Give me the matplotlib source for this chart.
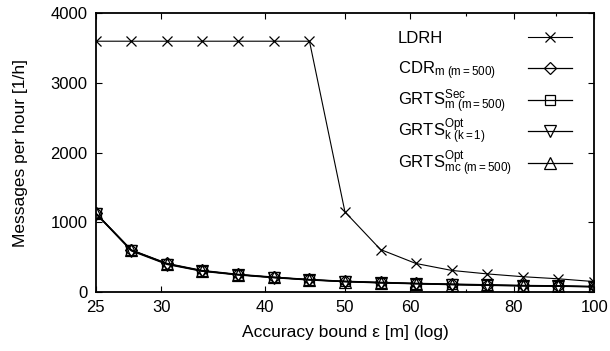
import types
import numpy as np
import matplotlib
matplotlib.use("Agg")
import matplotlib.pyplot as plt
from matplotlib.ticker import FixedLocator, NullFormatter, FixedFormatter
from matplotlib.transforms import Bbox

plt.rcParams["font.family"] = ["Liberation Sans", "DejaVu Sans"]
plt.rcParams["mathtext.fontset"] = "custom"
plt.rcParams["mathtext.rm"] = "Liberation Sans"
plt.rcParams["mathtext.it"] = "Liberation Sans"

# accuracy bound epsilon [m]
eps = [25, 27.6, 30.5, 33.6, 37.1, 41.0, 45.3, 50, 55.2, 60.9, 67.3, 74.3, 82.0, 90.5, 100]

ldrh      = [3600, 3600, 3600, 3600, 3600, 3600, 3600, 1150, 610, 410, 310, 260, 220, 190, 150]
cdr       = [1135, 605, 410, 310, 255, 215, 180, 155, 140, 125, 115, 105, 95, 90, 80]
grts_sec  = [1130, 600, 405, 305, 250, 210, 178, 152, 135, 122, 110, 100, 92, 86, 78]
grts_k    = [1125, 590, 395, 298, 245, 205, 172, 148, 130, 118, 105, 95, 88, 82, 75]
grts_mc   = [1130, 600, 402, 303, 250, 210, 176, 150, 134, 120, 108, 98, 90, 84, 76]

xticks = [25, 30, 40, 50, 60, 80, 100]
yticks = [0, 1000, 2000, 3000, 4000]

FS = 12.5

fig, ax = plt.subplots(figsize=(6.10, 3.51), dpi=100)
fig.subplots_adjust(left=0.157, right=0.974, top=0.962, bottom=0.168)

ax.plot(eps, ldrh, color="black", lw=0.8, marker="x", ms=7, mew=0.9,
        label="LDRH")
ax.plot(eps, cdr, color="black", lw=0.9, marker="D", ms=6, mew=0.9, mfc="none",
        label=r"CDR$_{\mathrm{m\ (m{=}500)}}$")
ax.plot(eps, grts_sec, color="black", lw=0.9, marker="s", ms=7, mew=0.9, mfc="none",
        label=r"GRTS$_{\mathrm{m\ (m{=}500)}}^{\mathrm{Sec}}$")
ax.plot(eps, grts_k, color="black", lw=0.9, marker="v", ms=8, mew=0.9, mfc="none",
        label=r"GRTS$_{\mathrm{k\ (k{=}1)}}^{\mathrm{Opt}}$")
ax.plot(eps, grts_mc, color="black", lw=0.9, marker="^", ms=8, mew=0.9, mfc="none",
        label=r"GRTS$_{\mathrm{mc\ (m{=}500)}}^{\mathrm{Opt}}$")

ax.set_xscale("log")
ax.set_xlim(25, 100)
ax.set_ylim(0, 4000)
ax.xaxis.set_major_locator(FixedLocator(xticks))
ax.xaxis.set_major_formatter(FixedFormatter([str(t) for t in xticks]))
ax.xaxis.set_minor_locator(FixedLocator([70, 90]))
ax.xaxis.set_minor_formatter(NullFormatter())
ax.set_yticks(yticks)

ax.tick_params(which="both", direction="in", top=True, right=True,
               labelsize=12, width=0.8, length=4, pad=6)
ax.tick_params(which="minor", length=2.5)
for s in ax.spines.values():
    s.set_linewidth(1.3)

ax.set_xlabel("Accuracy bound \u03b5 [m] (log)", fontsize=FS, labelpad=7)
ax.set_ylabel("Messages per hour [1/h]", fontsize=FS, labelpad=16)

leg = ax.legend(loc="upper right", frameon=False, markerfirst=False, fontsize=12,
                handlelength=2.6, borderaxespad=0.0,
                bbox_to_anchor=(0.968, 0.962))

# gnuplot-like key: labels left aligned, samples right aligned, even row pitch
ROW_W = 174
ROW_STEP = 31.5


def _even_rows(self, renderer):
    boxes = [c.get_bbox(renderer) for c in self.get_visible_children()]
    ys = [-i * ROW_STEP for i in range(len(boxes))]
    x0 = min(b.x0 for b in boxes)
    x1 = max(b.x1 for b in boxes)
    y0 = min(b.y0 + y for b, y in zip(boxes, ys))
    y1 = max(b.y1 + y for b, y in zip(boxes, ys))
    return Bbox.from_extents(x0, y0, x1, y1), [(0, y) for y in ys]


for col in leg._legend_handle_box.get_children():
    for row in col.get_children():
        row.mode = "expand"
        row.width = ROW_W
    col._get_bbox_and_child_offsets = types.MethodType(_even_rows, col)

fig.savefig("out.png", dpi=100)
